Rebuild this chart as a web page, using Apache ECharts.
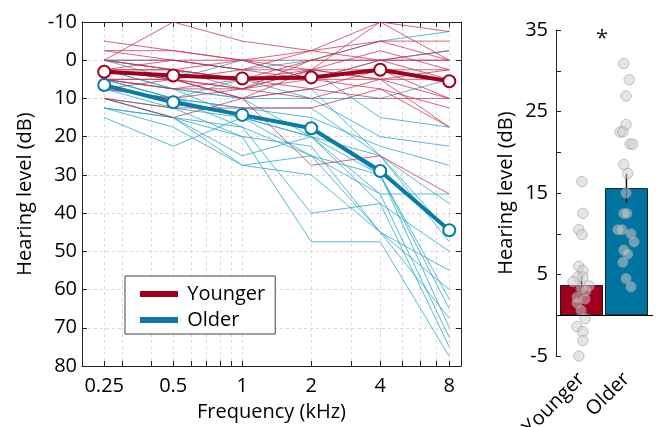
<!DOCTYPE html>
<html><head><meta charset="utf-8">
<script src="https://cdn.jsdelivr.net/npm/echarts@6/dist/echarts.min.js"></script>
<style>html,body{margin:0;padding:0;background:#fff}#c{width:657px;height:427px}</style>
</head><body><div id="c"></div>
<script>
// ---------- DATA ----------
const freqs = [0.25, 0.5, 1, 2, 4, 8];
const freqTickLabels = [0.25, 0.5, 1, 2, 4, 8];
const freqAllTicks = [0.2, 0.25, 0.3, 0.4, 0.5, 0.6, 0.7, 0.8, 0.9, 1, 2, 3, 4, 5, 6, 7, 8, 9];
const youngerIndiv = [
  [-2.5, -2.5, 0, 2.5, -10, -7.5],
  [0, -10, -5, -2.5, -5, -5],
  [0, 0, 2.5, -2.5, -10, 0],
  [2.5, 0, 0, 0, 0, -2.5],
  [2.5, 2.5, 5, 2.5, -2.5, 2.5],
  [2.5, 5, 2.5, 5, 0, 5],
  [5, 5, 7.5, 2.5, 5, 10],
  [5, 7.5, 5, 7.5, 2.5, 2.5],
  [0, 2.5, 5, 5, 5, 5],
  [5, 5, 10, 2.5, 2.5, 10],
  [7.5, 10, 7.5, 10, 5, 17.5],
  [10, 12.5, 12.5, 12.5, 7.5, 17.5],
  [10, 15, 10, 27.5, 25, 35],
  [2.5, 5, 7.5, 0, 0, 0],
  [-2.5, 0, 2.5, 2.5, 5, 2.5],
  [2.5, 2.5, 0, 5, 2.5, 5],
  [5, 7.5, 7.5, 5, 7.5, 12.5],
  [0, 2.5, 5, 0, -5, 0],
  [7.5, 5, 10, 7.5, 10, 10],
  [-5, -2.5, 0, -2.5, 0, 0]
];
const olderIndiv = [
  [0, 0, 2.5, 0, -5, -7.5],
  [2.5, 5, 0, 5, 0, -2.5],
  [5, 7.5, 10, 10, 10, 5],
  [0, 2.5, 7.5, 2.5, 15, 17.5],
  [5, 10, 5, 10, 20, 22.5],
  [7.5, 10, 12.5, 15, 22.5, 27.5],
  [2.5, 7.5, 10, 7.5, 25, 37.5],
  [10, 12.5, 15, 20, 25, 47.5],
  [12.5, 17.5, 27.5, 25, 45, 55],
  [5, 10, 15, 17.5, 30, 70],
  [15, 22.5, 15, 25, 35, 72.5],
  [12.5, 15, 17.5, 40, 37.5, 75],
  [10, 15, 20, 47.5, 47.5, 77.5],
  [7.5, 12.5, 20, 22.5, 45, 67.5],
  [0, 5, 10, 20, 30, 62.5],
  [5, 10, 12.5, 12.5, 25, 45],
  [2.5, 7.5, 15, 20, 37.5, 50],
  [7.5, 10, 17.5, 25, 30, 65],
  [10, 15, 27.5, 30, 45, 60],
  [12.5, 15, 25, 20, 35, 35]
];
const youngerMean = [3, 4, 4.8, 4.5, 2.5, 5.5];
const olderMean = [6.5, 11, 14.3, 17.8, 29, 44.5];

const groups = ['Younger', 'Older'];
const groupPos = [1, 2];
const groupMean = [3.7, 15.6];
const groupSem = [1.1, 1.75];
const youngerPtX = [1.01, 1.03, 0.94, 1.01, 0.94, 1.03, 0.92, 1.03, 0.81, 1.17, 0.99, 1.10, 0.90, 1.08, 0.90, 0.99, 1.08, 0.90, 1.03, 1.03, 0.94];
const youngerPtY = [16.4, 12.5, 10.5, 9.9, 6.0, 5.5, 4.7, 4.7, 4.1, 3.6, 3.3, 3.0, 2.2, 2.0, 1.5, 0.6, -0.4, -1.4, -2.0, -3.1, -5.0];
const olderPtX = [1.94, 2.06, 1.99, 1.99, 1.86, 1.92, 2.08, 2.14, 1.94, 2.03, 1.99, 1.94, 2.01, 1.81, 1.90, 2.10, 2.17, 1.94, 2.03, 1.92, 1.99, 2.10];
const olderPtY = [30.9, 28.9, 26.9, 23.4, 22.5, 22.5, 21.0, 21.0, 18.5, 17.4, 15.0, 12.5, 12.5, 10.5, 10.5, 10.0, 9.0, 8.0, 7.5, 6.5, 4.5, 3.5];

// ---------- STYLE ----------
const FONT = '"Open Sans", sans-serif';
const C_Y_THIN = 'rgba(200,40,75,0.72)';
const C_O_THIN = 'rgba(40,168,200,0.78)';
const C_Y = '#A0001E';
const C_O = '#0A7BA6';
const C_Y_BAR = '#A0001C';
const C_O_BAR = '#0074A0';

const chart = echarts.init(document.getElementById('c'), null, {renderer: 'canvas'});

const series = [];
olderIndiv.forEach((row, k) => series.push({
  type: 'line', name: 'o' + k, xAxisIndex: 0, yAxisIndex: 0, silent: true,
  data: freqs.map((f, i) => [f, row[i]]), symbol: 'none', z: 2,
  lineStyle: {width: 1, color: C_O_THIN}, animation: false
}));
youngerIndiv.forEach((row, k) => series.push({
  type: 'line', name: 'y' + k, xAxisIndex: 0, yAxisIndex: 0, silent: true,
  data: freqs.map((f, i) => [f, row[i]]), symbol: 'none', z: 3,
  lineStyle: {width: 1, color: C_Y_THIN}, animation: false
}));
series.push({
  type: 'line', name: 'Older', xAxisIndex: 0, yAxisIndex: 0, z: 5,
  data: freqs.map((f, i) => [f, olderMean[i]]), symbol: 'emptyCircle', symbolSize: 12,
  color: C_O, lineStyle: {width: 4, color: C_O},
  itemStyle: {color: C_O, borderColor: C_O, borderWidth: 3}, animation: false
});
series.push({
  type: 'line', name: 'Younger', xAxisIndex: 0, yAxisIndex: 0, z: 6,
  data: freqs.map((f, i) => [f, youngerMean[i]]), symbol: 'emptyCircle', symbolSize: 12,
  color: C_Y, lineStyle: {width: 4, color: C_Y},
  itemStyle: {color: C_Y, borderColor: C_Y, borderWidth: 3}, animation: false
});

// right panel
series.push({
  type: 'bar', xAxisIndex: 2, yAxisIndex: 2, barWidth: 43, z: 2, animation: false,
  data: groupPos.map((p, i) => ({value: [p, groupMean[i]], itemStyle: {color: i === 0 ? C_Y_BAR : C_O_BAR, borderColor: '#1a1a1a', borderWidth: 1}})),
  markLine: {silent: true, symbol: 'none', label: {show: false}, animation: false,
    lineStyle: {color: '#000', width: 1, type: 'solid'}, data: [{yAxis: 0}]}
});
series.push({
  type: 'custom', xAxisIndex: 2, yAxisIndex: 2, z: 3, silent: true, animation: false,
  data: groupPos.map((p, i) => [p, groupMean[i] - groupSem[i], groupMean[i] + groupSem[i]]),
  renderItem: function (params, api) {
    const a = api.coord([api.value(0), api.value(1)]);
    const b = api.coord([api.value(0), api.value(2)]);
    return {type: 'line', shape: {x1: a[0], y1: a[1], x2: b[0], y2: b[1]}, style: {stroke: '#111', lineWidth: 1.5}};
  }
});
const ptStyle = {color: 'rgba(205,205,205,0.65)', borderColor: 'rgba(130,130,130,0.7)', borderWidth: 0.8};
series.push({
  type: 'scatter', xAxisIndex: 2, yAxisIndex: 2, z: 4, symbolSize: 10.5, animation: false,
  data: youngerPtX.map((x, i) => [x, youngerPtY[i]]), itemStyle: ptStyle
});
series.push({
  type: 'scatter', xAxisIndex: 2, yAxisIndex: 2, z: 4, symbolSize: 10.5, animation: false,
  data: olderPtX.map((x, i) => [x, olderPtY[i]]), itemStyle: ptStyle
});

const txt = {fontFamily: FONT, fontSize: 20, color: '#000'};
const axisLine = {show: true, onZero: false, lineStyle: {color: '#222', width: 1}};
const gridDash = {show: true, lineStyle: {color: '#d8d8d8', width: 1, type: [3, 3]}};

const option = {
  backgroundColor: '#fff',
  animation: false,
  textStyle: {fontFamily: FONT},
  grid: [
    {left: 82, top: 22, width: 379, height: 344, outerBoundsMode: 'none', containLabel: false},
    {left: 556, top: 30, width: 97, height: 326, outerBoundsMode: 'none', containLabel: false}
  ],
  legend: {
    data: [{name: 'Younger', itemStyle: {color: C_Y}}, {name: 'Older', itemStyle: {color: C_O}}],
    formatter: n => ' ' + n,
    orient: 'vertical', left: 125, top: 276, icon: 'rect', itemWidth: 36, itemHeight: 4,
    itemGap: 6, padding: [8, 10, 4, 15], borderColor: '#444', borderWidth: 1,
    backgroundColor: '#fff', selectedMode: false,
    textStyle: {fontFamily: FONT, fontSize: 20, color: '#000'}
  },
  xAxis: [
    {type: 'log', logBase: 2, min: 0.2, max: 9, gridIndex: 0, position: 'bottom',
     axisLine: axisLine,
     axisTick: {show: true, inside: true, length: 5, customValues: freqAllTicks, lineStyle: {color: '#222'}},
     axisLabel: Object.assign({customValues: freqTickLabels, margin: 10, formatter: v => String(v)}, txt),
     splitLine: gridDash,
     name: 'Frequency (kHz)', nameLocation: 'middle', nameGap: 36, nameTextStyle: txt},
    {type: 'log', logBase: 2, min: 0.2, max: 9, gridIndex: 0, position: 'top',
     axisLine: axisLine,
     axisTick: {show: true, inside: true, length: 5, customValues: freqAllTicks, lineStyle: {color: '#222'}},
     axisLabel: {show: false}, splitLine: {show: false}},
    {type: 'value', gridIndex: 1, min: 0.433, max: 2.59, position: 'bottom',
     axisLine: {show: false, onZero: false}, axisTick: {show: false}, splitLine: {show: false},
     axisLabel: Object.assign({customValues: groupPos, rotate: 45, margin: 20, formatter: v => groups[Math.round(v) - 1] || ''}, txt)}
  ],
  yAxis: [
    {type: 'value', gridIndex: 0, inverse: true, min: -10, max: 80, interval: 10, position: 'left',
     axisLine: axisLine,
     axisTick: {show: true, inside: true, length: 5, lineStyle: {color: '#222'}},
     axisLabel: Object.assign({margin: 5}, txt),
     splitLine: gridDash,
     name: 'Hearing level (dB)', nameLocation: 'middle', nameGap: 47, nameTextStyle: txt},
    {type: 'value', gridIndex: 0, inverse: true, min: -10, max: 80, interval: 10, position: 'right',
     axisLine: axisLine,
     axisTick: {show: true, inside: true, length: 5, lineStyle: {color: '#222'}},
     axisLabel: {show: false}, splitLine: {show: false}},
    {type: 'value', gridIndex: 1, min: -5, max: 35, interval: 5, position: 'left',
     axisLine: axisLine,
     axisTick: {show: true, inside: true, length: 5, lineStyle: {color: '#222'}},
     axisLabel: Object.assign({customValues: [-5, 5, 15, 25, 35], margin: 8}, txt),
     splitLine: {show: false},
     name: 'Hearing level (dB)', nameLocation: 'middle', nameGap: 40, nameTextStyle: txt}
  ],
  graphic: [
    {type: 'text', left: 596, top: 28, style: {text: '*', font: '22px "Open Sans", sans-serif', fill: '#222'}}
  ],
  series: series
};
chart.setOption(option);
</script>
</body></html>
